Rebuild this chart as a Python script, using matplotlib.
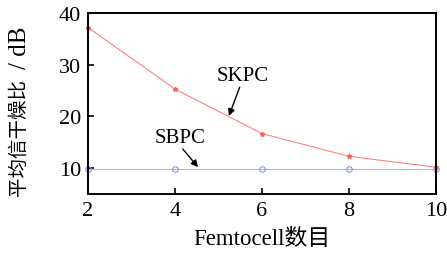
import matplotlib
matplotlib.use("Agg")
import matplotlib.pyplot as plt

x_vals = [2, 4, 6, 8, 10]
skpc = [37.2, 25.3, 16.7, 12.3, 10.2]
sbpc = [9.8, 9.8, 9.8, 9.8, 9.8]
x_ticks = [2, 4, 6, 8, 10]
y_ticks = [10, 20, 30, 40]

plt.rcParams['font.family'] = ['Liberation Serif', 'Noto Sans CJK SC']

fig = plt.figure(figsize=(4.47, 2.55), dpi=100)
ax = fig.add_axes([0.197, 0.235, 0.778, 0.71])

ax.plot(x_vals, skpc, color='#ff8080', lw=0.8, marker='*', ms=3.5,
        mec='#ff6060', mfc='#ff6060', clip_on=False)
ax.plot(x_vals, sbpc, color='#a8b8ec', lw=0.8, marker='o', ms=4,
        mfc='none', mec='#8898e0', mew=0.8, clip_on=False)

ax.set_xlim(2, 10)
ax.set_ylim(5, 40)
ax.set_xticks(x_ticks)
ax.set_yticks(y_ticks)
ax.tick_params(direction='in', length=4, width=1.2, top=False, right=False, labelsize=16, pad=5)
for s in ax.spines.values():
    s.set_linewidth(1.4)

ax.set_xlabel('Femtocell数目', fontsize=16.5)
ax.xaxis.set_label_coords(0.5, -0.19)

# y label: Chinese part and unit part
fig.text(0.043, 0.462, '平均信干燥比', rotation=90, ha='center', va='center', fontsize=14)
fig.text(0.045, 0.812, '/ dB', rotation=90, ha='center', va='center', fontsize=18)

ax.text(5.56, 28.0, 'SKPC', ha='center', va='center', fontsize=15)
ax.annotate('', xy=(5.24, 20.1), xytext=(5.49, 25.7),
            arrowprops=dict(arrowstyle='-|>', color='black', lw=1.0,
                            mutation_scale=10, shrinkA=0, shrinkB=0))
ax.text(4.11, 16.0, 'SBPC', ha='center', va='center', fontsize=15)
ax.annotate('', xy=(4.53, 10.2), xytext=(4.18, 13.7),
            arrowprops=dict(arrowstyle='-|>', color='black', lw=1.0,
                            mutation_scale=10, shrinkA=0, shrinkB=0))

fig.savefig('out.png', dpi=100)
